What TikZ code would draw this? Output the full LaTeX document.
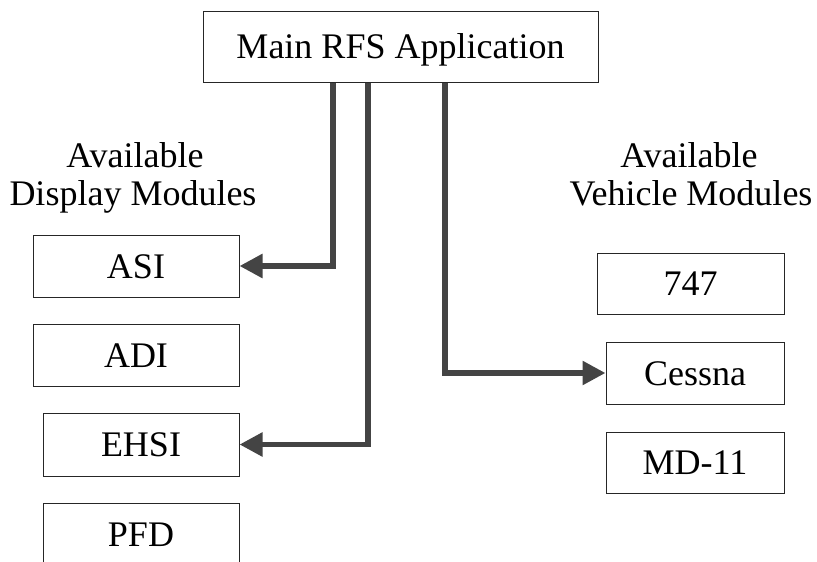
\documentclass[tikz,border=0pt]{standalone}
\usepackage{fontspec}
\setmainfont{Liberation Serif}
\usetikzlibrary{arrows.meta}
\definecolor{conncol}{HTML}{444444}
\tikzset{
  box/.style={draw=black!85, line width=1pt, inner sep=0pt, fill=white,
    text height=24pt, text depth=0pt,
    font=\fontsize{36}{40}\selectfont},
  lbl/.style={anchor=base, inner sep=0pt, font=\fontsize{36}{40}\selectfont},
  conn/.style={draw=conncol, line width=5.5pt,
    -{Triangle[length=23pt,width=23pt]}}
}
\begin{document}
\begin{tikzpicture}[x=1pt,y=-1pt]
\useasboundingbox (0,0) rectangle (817,562);
\clip (0,0) rectangle (817,562);
\node[box, minimum width=395pt, minimum height=71pt] (main) at (400.5,46.5) {Main RFS Application};
\node[lbl] (dlab1) at (135,167) {Available};
\node[lbl] (dlab2) at (133,205) {Display Modules};
\node[lbl] (vlab1) at (689,167) {Available};
\node[lbl] (vlab2) at (691,205) {Vehicle Modules};
\node[box, minimum width=206pt, minimum height=62pt] (asi) at (136,266) {ASI};
\node[box, minimum width=206pt, minimum height=62pt] (adi) at (136,355) {ADI};
\node[box, minimum width=196pt, minimum height=63pt] (ehsi) at (141,444.5) {EHSI};
\node[box, minimum width=196pt, minimum height=62pt] (pfd) at (141,534) {PFD};
\node[box, minimum width=187pt, minimum height=61pt] (b747) at (690.5,283.5) {747};
\node[box, minimum width=178pt, minimum height=62pt] (cessna) at (695,373) {Cessna};
\node[box, minimum width=178pt, minimum height=61pt] (md11) at (695,462.5) {MD-11};
\coordinate (c1) at (333,0);
\coordinate (c2) at (368,0);
\coordinate (c3) at (445,0);
\draw[conn] (c1 |- main.south) |- (asi.east);
\draw[conn] (c2 |- main.south) |- (ehsi.east);
\draw[conn] (c3 |- main.south) |- (cessna.west);
\end{tikzpicture}
\end{document}
